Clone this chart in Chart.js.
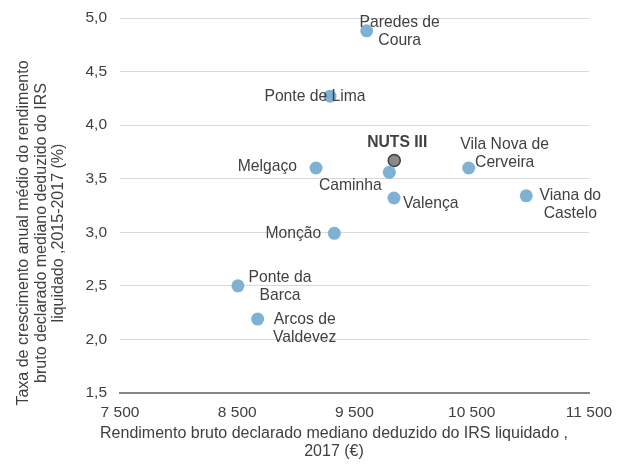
<!DOCTYPE html>
<html>
<head>
<meta charset="utf-8">
<script src="https://cdn.jsdelivr.net/npm/chart.js@4/dist/chart.umd.min.js"></script>
<style>
html,body{margin:0;padding:0;background:#fff;}
#wrap{width:622px;height:464px;position:relative;}
</style>
</head>
<body>
<div id="wrap"><canvas id="c" width="622" height="464"></canvas></div>
<script>
// Data
const municipios = ["Paredes de Coura","Ponte de Lima","Melgaço","Caminha","Valença","Vila Nova de Cerveira","Viana do Castelo","Monção","Ponte da Barca","Arcos de Valdevez"];
const rendimento = [9604, 9291, 9172, 9797, 9837, 10474, 10965, 9328, 8506, 8674];
const taxa = [4.88, 4.27, 3.60, 3.56, 3.32, 3.60, 3.34, 2.99, 2.50, 2.19];
const nutsLabel = "NUTS III";
const nutsRendimento = [9839];
const nutsTaxa = [3.67];
const xTicks = [7500, 8500, 9500, 10500, 11500];
const yTicks = [1.5, 2.0, 2.5, 3.0, 3.5, 4.0, 4.5, 5.0];
const xTitle = ["Rendimento bruto declarado mediano deduzido do IRS liquidado ,", "2017 (€)"];
const yTitle = ["Taxa de crescimento anual médio do rendimento", "bruto declarado mediano deduzido do IRS", "liquidado ,2015-2017 (%)"];

// Label layout (offsets from point, in px) and line breaks
const labelLayout = {
  "Paredes de Coura": {lines:["Paredes de","Coura"], dx:33, dy:-8, align:"center"},
  "Ponte de Lima": {lines:["Ponte de Lima"], dx:-15, dy:0, align:"center"},
  "Melgaço": {lines:["Melgaço"], dx:-19, dy:-1, align:"right"},
  "Caminha": {lines:["Caminha"], dx:-39, dy:13, align:"center"},
  "Valença": {lines:["Valença"], dx:9, dy:6, align:"left"},
  "Vila Nova de Cerveira": {lines:["Vila Nova de","Cerveira"], dx:36, dy:-23, align:"center"},
  "Viana do Castelo": {lines:["Viana do","Castelo"], dx:44, dy:0, align:"center"},
  "Monção": {lines:["Monção"], dx:-41, dy:0, align:"center"},
  "Ponte da Barca": {lines:["Ponte da","Barca"], dx:42, dy:-8, align:"center"},
  "Arcos de Valdevez": {lines:["Arcos de","Valdevez"], dx:47, dy:1, align:"center"},
  "NUTS III": {lines:["NUTS III"], dx:3, dy:-18, align:"center", bold:true}
};

const FONT = "'Liberation Sans', Arial, sans-serif";
const TXT = "#404040";

const fmtThousands = v => String(v).replace(/\B(?=(\d{3})+(?!\d))/g, " ");

const labelPlugin = {
  id: "labels",
  afterDatasetsDraw(chart) {
    const ctx = chart.ctx;
    ctx.save();
    ctx.fillStyle = TXT;
    ctx.textBaseline = "middle";
    chart.data.datasets.forEach((ds, di) => {
      const meta = chart.getDatasetMeta(di);
      meta.data.forEach((pt, i) => {
        const name = ds.names[i];
        const L = labelLayout[name];
        if (!L) return;
        ctx.font = (L.bold ? "bold " : "") + "15.7px " + FONT;
        ctx.textAlign = L.align;
        const lh = 18;
        L.lines.forEach((ln, k) => {
          ctx.fillText(ln, pt.x + L.dx, pt.y + L.dy + k * lh);
        });
      });
    });
    ctx.restore();
  },
  afterDraw(chart) {
    const ctx = chart.ctx;
    ctx.save();
    ctx.fillStyle = TXT;
    ctx.font = "16px " + FONT;
    ctx.textAlign = "center";
    ctx.textBaseline = "middle";
    xTitle.forEach((ln, k) => ctx.fillText(ln, 334, 434 + k * 17.5));
    yTitle.forEach((ln, k) => {
      ctx.save();
      ctx.translate(24 + k * 17.3, 233);
      ctx.rotate(-Math.PI / 2);
      ctx.fillText(ln, 0, 0);
      ctx.restore();
    });
    ctx.restore();
  }
};

new Chart(document.getElementById("c"), {
  type: "scatter",
  data: {
    datasets: [
      {
        label: "Municípios",
        names: municipios,
        data: rendimento.map((x, i) => ({x, y: taxa[i]})),
        backgroundColor: "#7FB1D5",
        borderColor: "#7FB1D5",
        borderWidth: 0,
        pointRadius: 6.5,
        pointHoverRadius: 6.5
      },
      {
        label: nutsLabel,
        names: [nutsLabel],
        data: nutsRendimento.map((x, i) => ({x, y: nutsTaxa[i]})),
        backgroundColor: "#8A8A8A",
        borderColor: "#3F3F3F",
        borderWidth: 1.5,
        pointRadius: 6,
        pointHoverRadius: 6
      }
    ]
  },
  options: {
    responsive: false,
    animation: false,
    devicePixelRatio: 1,
    layout: {padding: {left: 0, right: 33, top: 18, bottom: 0}},
    plugins: {legend: {display: false}, tooltip: {enabled: false}},
    scales: {
      x: {
        type: "linear",
        min: xTicks[0],
        max: xTicks[xTicks.length - 1],
        afterBuildTicks: s => { s.ticks = xTicks.map(v => ({value: v})); },
        afterFit: s => { s.height = 71; s.paddingLeft = 0; s.paddingRight = 0; },
        grid: {display: true, color: "rgba(0,0,0,0)", drawTicks: false},
        border: {display: true, color: "#868686", width: 2},
        ticks: {
          padding: 10,
          color: TXT,
          font: {family: FONT, size: 15.5},
          callback: v => fmtThousands(v)
        }
      },
      y: {
        type: "linear",
        min: yTicks[0],
        max: yTicks[yTicks.length - 1],
        afterBuildTicks: s => { s.ticks = yTicks.map(v => ({value: v})); },
        afterFit: s => { s.width = 120; s.paddingTop = 0; s.paddingBottom = 0; },
        grid: {color: "#D9D9D9", lineWidth: 1, drawTicks: false},
        border: {display: false},
        ticks: {
          padding: 13,
          color: TXT,
          font: {family: FONT, size: 15.5},
          callback: v => v.toFixed(1).replace(".", ",")
        }
      }
    }
  },
  plugins: [labelPlugin]
});
</script>
</body>
</html>
